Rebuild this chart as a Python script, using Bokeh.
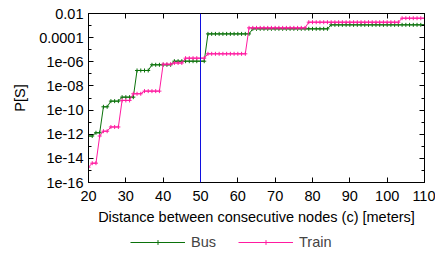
from bokeh.plotting import figure
from bokeh.layouts import column
from bokeh.models import (FixedTicker, LinearAxis, LogAxis, Span, Legend, LegendItem,
                          CustomJSTickFormatter, Range1d)
from bokeh.embed import file_html
from bokeh.resources import INLINE

# Distance between consecutive nodes (c) [meters]
distance = list(range(20, 111))

# log10 of P[S], one value per distance
bus_log10 = [
    -12.15, -12.15,
    -11.88, -11.88,
    -9.73, -9.73,
    -9.26, -9.26, -9.26,
    -8.93, -8.93, -8.93, -8.93,
    -6.72, -6.72, -6.72, -6.72,
    -6.25, -6.25, -6.25, -6.25, -6.25, -6.25,
    -5.95, -5.95, -5.95, -5.95, -5.95, -5.95, -5.95, -5.95, -5.95,
    -3.69, -3.69, -3.69, -3.69, -3.69, -3.69, -3.69, -3.69, -3.69, -3.69, -3.69, -3.69,
    -3.27, -3.27, -3.27, -3.27, -3.27, -3.27, -3.27, -3.27, -3.27, -3.27, -3.27,
    -3.27, -3.27, -3.27, -3.27, -3.27, -3.27, -3.27, -3.27, -3.27, -3.27,
    -2.94, -2.94, -2.94, -2.94, -2.94, -2.94, -2.94, -2.94, -2.94, -2.94, -2.94, -2.94, -2.94,
    -2.94, -2.94, -2.94, -2.94, -2.94, -2.94, -2.94, -2.94, -2.94, -2.94, -2.94, -2.94, -2.94,
]
train_log10 = [
    -14.73,
    -14.4, -14.4,
    -12.15,
    -11.75, -11.75,
    -11.4, -11.4, -11.4,
    -9.2, -9.2, -9.2,
    -8.65, -8.65, -8.65,
    -8.43, -8.43, -8.43, -8.43, -8.43,
    -6.2, -6.2, -6.2,
    -6.1, -6.1, -6.1,
    -5.7, -5.7, -5.7, -5.7, -5.7, -5.7,
    -5.34, -5.34, -5.34, -5.34, -5.34, -5.34, -5.34, -5.34, -5.34, -5.34, -5.34,
    -3.19, -3.19, -3.19, -3.19, -3.19, -3.19, -3.19, -3.19,
    -3.19, -3.19, -3.19, -3.19, -3.19, -3.19, -3.19, -3.19,
    -2.72, -2.72, -2.72, -2.72, -2.72, -2.72, -2.72, -2.72, -2.72, -2.72, -2.72, -2.72, -2.72,
    -2.72, -2.72, -2.72, -2.72, -2.72, -2.72, -2.72, -2.72, -2.72, -2.72, -2.72, -2.72,
    -2.39, -2.39, -2.39, -2.39, -2.39, -2.39, -2.39,
]
bus_p = [10 ** v for v in bus_log10]
train_p = [10 ** v for v in train_log10]

series_names = ["Bus", "Train"]
x_ticks = [20, 30, 40, 50, 60, 70, 80, 90, 100, 110]
y_exps = [-16, -14, -12, -10, -8, -6, -4, -2]
y_labels = ["1e-16", "1e-14", "1e-12", "1e-10", "1e-08", "1e-06", "0.0001", "0.01"]
y_minor_exps = [-15, -13, -11, -9, -7, -5, -3]
threshold_distance = 50

FONT = "Liberation Sans"
FS = "14.5px"
GREEN = "#0b720b"
PINK = "#ff1aa0"

y_major = [10.0 ** e for e in y_exps]
y_minor = [10.0 ** e for e in y_minor_exps]

p = figure(width=435, height=230, x_range=(20, 110), y_range=(1e-16, 1e-2),
           y_axis_type="log", output_backend="svg", toolbar_location=None,
           min_border_left=88, min_border_right=11, min_border_top=13,
           min_border_bottom=48)
p.background_fill_color = "white"
p.border_fill_color = "white"
p.outline_line_color = "black"
p.outline_line_width = 1
p.xgrid.visible = False
p.ygrid.visible = False

fmt = CustomJSTickFormatter(args=dict(exps=y_exps, labels=y_labels), code="""
const e = Math.round(Math.log10(tick));
const i = exps.indexOf(e);
return i >= 0 ? labels[i] : '';
""")
blank = CustomJSTickFormatter(code="return '';")

xa = p.xaxis[0]
xa.ticker = FixedTicker(ticks=x_ticks)
xa.axis_label = "Distance between consecutive nodes (c) [meters]"
ya = p.yaxis[0]
ya.ticker = FixedTicker(ticks=y_major, minor_ticks=y_minor)
ya.formatter = fmt
ya.axis_label = "P[S]"

top = LinearAxis(ticker=FixedTicker(ticks=x_ticks), formatter=blank)
right = LogAxis(ticker=FixedTicker(ticks=y_major, minor_ticks=y_minor), formatter=blank)
p.add_layout(top, "above")
p.add_layout(right, "right")

for ax in [xa, ya, top, right]:
    ax.axis_line_color = "black"
    ax.major_tick_line_color = "black"
    ax.minor_tick_line_color = "black"
    ax.major_tick_in = 5
    ax.major_tick_out = 0
    ax.minor_tick_in = 3
    ax.minor_tick_out = 0
    ax.major_label_text_font = FONT
    ax.major_label_text_font_size = FS
    ax.major_label_text_color = "black"
    ax.axis_label_text_font = FONT
    ax.axis_label_text_font_size = FS
    ax.axis_label_text_font_style = "normal"
    ax.axis_label_text_color = "black"
for ax in [top, right]:
    ax.major_label_standoff = 0
xa.minor_tick_line_color = None
top.minor_tick_line_color = None
xa.major_label_standoff = 8
xa.axis_label_standoff = 5
ya.major_label_standoff = 5
ya.axis_label_standoff = 8

p.add_layout(Span(location=threshold_distance, dimension="height",
                  line_color="#1010e0", line_width=1))

p.line(distance, bus_p, line_color=GREEN, line_width=1)
p.scatter(distance, bus_p, marker="cross", size=4, line_color=GREEN, line_width=1)
p.line(distance, train_p, line_color=PINK, line_width=1)
p.scatter(distance, train_p, marker="cross", size=4, line_color=PINK, line_width=1)

# legend strip below the plot (gnuplot-style key under the axis label);
# its ranges keep the series themselves out of view, only the key shows
lg = figure(width=435, height=22, x_range=Range1d(0, 1), y_range=Range1d(0, 1),
            output_backend="svg", toolbar_location=None,
            min_border_left=0, min_border_right=0, min_border_top=0, min_border_bottom=0)
lg.axis.visible = False
lg.grid.visible = False
lg.outline_line_color = None
lg.background_fill_color = "white"
lg.border_fill_color = "white"
items = []
for name, color, vals in zip(series_names, [GREEN, PINK], [bus_p, train_p]):
    r1 = lg.line(distance, vals, line_color=color, line_width=1)
    r2 = lg.scatter(distance, vals, marker="cross", size=4, line_color=color, line_width=1)
    items.append(LegendItem(label=name, renderers=[r1, r2]))
legend = Legend(items=items, orientation="horizontal", location=(40, 0),
                border_line_alpha=0, background_fill_alpha=0,
                glyph_width=55, glyph_height=12, label_standoff=6, spacing=22,
                padding=2, margin=0,
                label_text_font=FONT, label_text_font_size=FS)
lg.add_layout(legend)

layout = column(p, lg, spacing=0)
open("out.html", "w").write(file_html(layout, INLINE))
